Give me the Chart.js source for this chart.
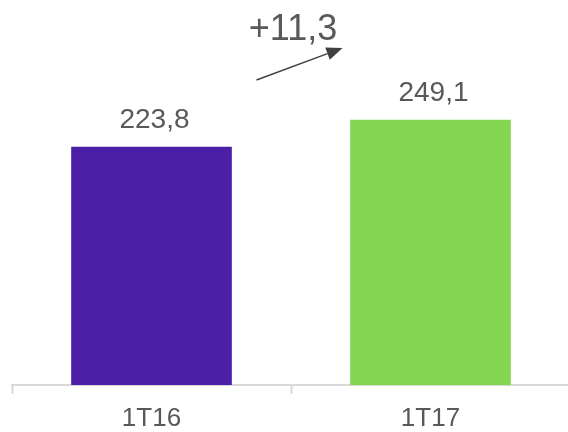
<!DOCTYPE html>
<html>
<head>
<meta charset="utf-8">
<script src="https://cdn.jsdelivr.net/npm/chart.js@4"></script>
<style>
  html, body { margin: 0; padding: 0; background: #ffffff; overflow: hidden; }
  canvas { display: block; }
</style>
</head>
<body>
<canvas id="c" width="582" height="432"></canvas>
<script>
const categories = ['1T16', '1T17'];
const values = [223.8, 249.1];
const valueLabels = ['223,8', '249,1'];
const barColors = ['#4B20A6', '#84D550'];
const changeLabel = '+11,3';

const FONT = "'Liberation Sans', Arial, sans-serif";
const TEXT = '#595959';

const labelPlugin = {
  id: 'labels',
  afterDatasetsDraw(chart) {
    const ctx = chart.ctx;
    const meta = chart.getDatasetMeta(0);
    ctx.save();
    ctx.fillStyle = TEXT;
    ctx.textAlign = 'center';
    ctx.textBaseline = 'alphabetic';
    ctx.font = '28px ' + FONT;
    meta.data.forEach((bar, i) => {
      ctx.fillText(valueLabels[i], bar.x + 3, bar.y - 19);
    });
    // change annotation
    const b0 = meta.data[0], b1 = meta.data[1];
    const mid = (b0.x + b1.x) / 2;
    const top = Math.min(b0.y, b1.y);
    ctx.font = '36px ' + FONT;
    ctx.fillText(changeLabel, mid + 2, top - 80);
    // arrow
    const sx = mid - 34.5, sy = top - 40;
    const tx = mid + 51.5, ty = top - 72;
    const ang = Math.atan2(ty - sy, tx - sx);
    const hl = 16, hw = 6.5;
    const bx = tx - hl * Math.cos(ang), by = ty - hl * Math.sin(ang);
    ctx.strokeStyle = '#404040';
    ctx.fillStyle = '#404040';
    ctx.lineWidth = 1.5;
    ctx.beginPath();
    ctx.moveTo(sx, sy);
    ctx.lineTo(bx, by);
    ctx.stroke();
    ctx.beginPath();
    ctx.moveTo(tx, ty);
    ctx.lineTo(bx + hw * Math.sin(ang), by - hw * Math.cos(ang));
    ctx.lineTo(bx - hw * Math.sin(ang), by + hw * Math.cos(ang));
    ctx.closePath();
    ctx.fill();
    ctx.restore();
  }
};

new Chart(document.getElementById('c'), {
  type: 'bar',
  data: {
    labels: categories,
    datasets: [{
      data: values,
      backgroundColor: barColors,
      borderWidth: 0,
      barThickness: 160
    }]
  },
  options: {
    responsive: false,
    animation: false,
    events: [],
    layout: { padding: { left: 12, right: 12, top: 0, bottom: 0 } },
    plugins: { legend: { display: false }, tooltip: { enabled: false } },
    scales: {
      y: { display: false, min: 0, max: 362 },
      x: {
        afterFit(scale) { scale.height = scale.height - 11; },
        grid: {
          display: true,
          drawOnChartArea: false,
          drawTicks: true,
          tickLength: 9,
          tickWidth: 2,
          tickColor: '#D9D9D9',
          offset: true
        },
        border: { display: true, color: '#D9D9D9', width: 2 },
        ticks: {
          color: TEXT,
          padding: 11.5,
          font: { family: FONT, size: 26, lineHeight: 1.0 }
        }
      }
    }
  },
  plugins: [labelPlugin]
});
</script>
</body>
</html>
